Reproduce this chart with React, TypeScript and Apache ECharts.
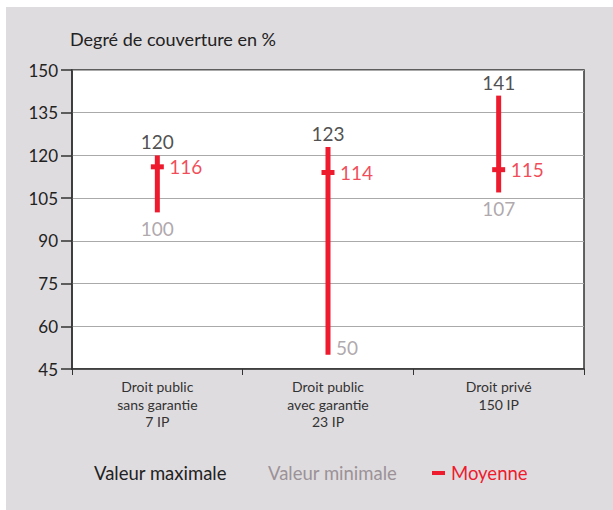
import React, { useEffect, useRef } from "react";
import * as echarts from "echarts";

const categories = [
  "Droit public\nsans garantie\n7 IP",
  "Droit public\navec garantie\n23 IP",
  "Droit privé\n150 IP",
];
const maxValues = [120, 123, 141];
const minValues = [100, 50, 107];
const meanValues = [116, 114, 115];

const yMin = 45;
const yMax = 150;
const yStep = 15;

const RED = "#ee1b2e";
const GRAY = "#9b9297";
const DARK = "#222222";
const FONT = "Lato, 'Noto Sans', sans-serif";

export default function App() {
  const ref = useRef<HTMLDivElement>(null);
  useEffect(() => {
    if (!ref.current) return;
    const chart = echarts.init(ref.current, null, { renderer: "svg" });
    const rangeData = categories.map((_, i) => [i, minValues[i], maxValues[i], meanValues[i]]);
    chart.setOption({
      animation: false,
      textStyle: { fontFamily: FONT },
      graphic: [
        {
          type: "rect",
          z: -10,
          silent: true,
          shape: { x: 6, y: 7, width: 607, height: 503 },
          style: { fill: "#dfdcdf" },
        },
        {
          type: "text",
          left: 70,
          top: 30,
          style: { text: "Degré de couverture en %", font: `18px ${FONT}`, fill: DARK },
        },
        {
          type: "text",
          left: 94,
          top: 463,
          style: { text: "Valeur maximale", font: `18.5px ${FONT}`, fill: DARK },
        },
        {
          type: "text",
          left: 268,
          top: 463,
          style: { text: "Valeur minimale", font: `18.5px ${FONT}`, fill: GRAY },
        },
        {
          type: "rect",
          shape: { x: 432, y: 471, width: 13, height: 4 },
          style: { fill: RED },
        },
        {
          type: "text",
          left: 451,
          top: 463,
          style: { text: "Moyenne", font: `18.5px ${FONT}`, fill: RED },
        },
      ],
      grid: {
        left: 72,
        right: 29,
        top: 70,
        bottom: 141,
        show: true,
        backgroundColor: "#ffffff",
        borderColor: "#333333",
        borderWidth: 1.5,
        containLabel: false,
      },
      xAxis: {
        type: "category",
        data: categories,
        axisLine: { lineStyle: { color: "#333333", width: 1.5 } },
        axisTick: { show: true, length: 6, lineStyle: { color: "#333333" } },
        axisLabel: {
          color: "#333333",
          fontSize: 14,
          lineHeight: 17.5,
          margin: 9,
          fontFamily: FONT,
        },
      },
      yAxis: {
        type: "value",
        min: yMin,
        max: yMax,
        interval: yStep,
        axisLine: { show: true, lineStyle: { color: "#333333", width: 1.5 } },
        axisTick: { show: true, length: 11, lineStyle: { color: "#333333", width: 1.5 } },
        axisLabel: { color: DARK, fontSize: 17, margin: 14, fontFamily: FONT },
        splitLine: { lineStyle: { color: "#aaaaaa", width: 1.2 } },
      },
      series: [
        {
          type: "custom",
          data: rangeData,
          encode: { x: 0, y: [1, 2, 3] },
          renderItem: (params: any, api: any) => {
            const x = api.value(0);
            const top = api.coord([x, api.value(2)]);
            const bot = api.coord([x, api.value(1)]);
            const mid = api.coord([x, api.value(3)]);
            return {
              type: "group",
              children: [
                {
                  type: "rect",
                  shape: { x: top[0] - 2.5, y: top[1], width: 5, height: bot[1] - top[1] },
                  style: { fill: RED },
                },
                {
                  type: "rect",
                  shape: { x: mid[0] - 6.5, y: mid[1] - 2.5, width: 13, height: 5 },
                  style: { fill: RED },
                },
              ],
            };
          },
          z: 3,
        },
        {
          name: "Valeur maximale",
          type: "scatter",
          data: maxValues,
          symbolSize: 0,
          silent: true,
          label: {
            show: true,
            position: "top",
            distance: 4,
            formatter: "{c}",
            color: DARK,
            fontSize: 19,
            fontFamily: FONT,
          },
          z: 4,
        },
        {
          name: "Valeur minimale",
          type: "scatter",
          data: minValues.map((v, i) =>
            i === 1
              ? { value: v, label: { position: "right", distance: 8, offset: [0, -7] } }
              : v
          ),
          symbolSize: 0,
          silent: true,
          label: {
            show: true,
            position: "bottom",
            distance: 7,
            formatter: "{c}",
            color: GRAY,
            fontSize: 19,
            fontFamily: FONT,
          },
          z: 4,
        },
        {
          name: "Moyenne",
          type: "scatter",
          data: meanValues,
          symbolSize: 0,
          silent: true,
          label: {
            show: true,
            position: "right",
            distance: 12,
            formatter: "{c}",
            color: RED,
            fontSize: 19,
            fontFamily: FONT,
          },
          z: 4,
        },
      ],
    });
    return () => chart.dispose();
  }, []);
  return (
    <div
      ref={ref}
      style={{ position: "absolute", left: 0, top: 0, width: 613, height: 510 }}
    />
  );
}
